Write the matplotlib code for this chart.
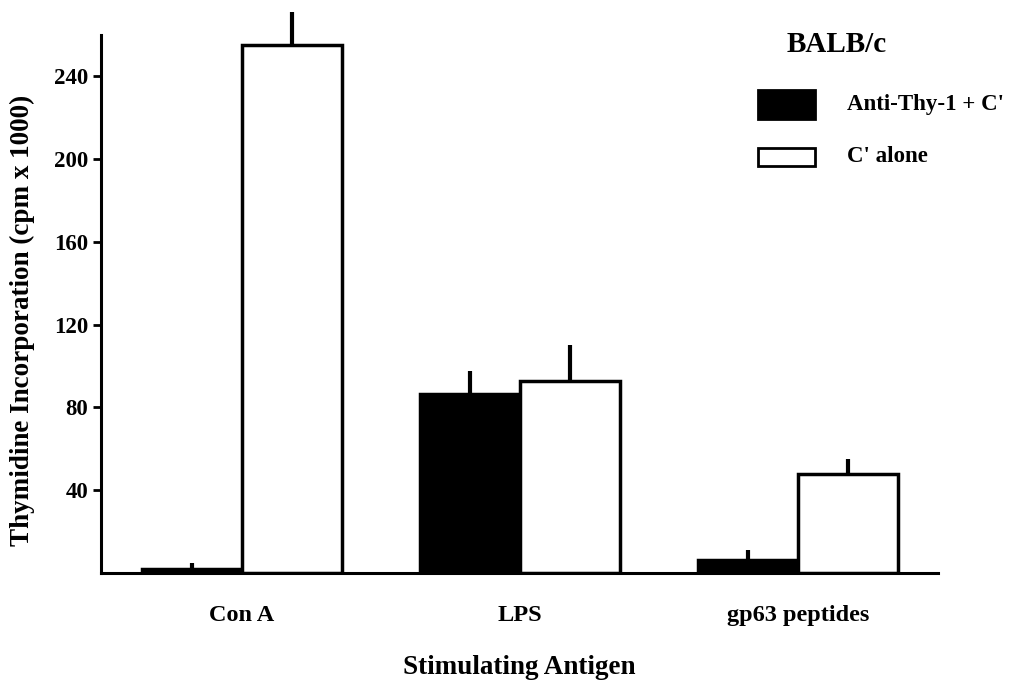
import numpy as np
import matplotlib.pyplot as plt
from matplotlib.patches import Rectangle

# thymidine incorporation, cpm x 1000
antigens = ['Con A', 'LPS', 'gp63 peptides']
anti_thy1 = [2, 86.5, 6.5]
anti_thy1_err = [3, 11, 4.5]
c_alone = [255, 93, 48]
c_alone_err = [16, 17, 7]
series_names = ["Anti-Thy-1 + C'", "C' alone"]
yticks = [40, 80, 120, 160, 200, 240]

plt.rcParams['font.family'] = ['Liberation Serif', 'DejaVu Serif']
plt.rcParams['font.weight'] = 'bold'

fig = plt.figure(figsize=(10.1, 6.85), dpi=100)
ax = fig.add_axes([0.1, 0.1635, 0.829, 0.7855])

x = np.arange(len(antigens))
w = 0.36
ax.bar(x - w / 2, anti_thy1, w, color='black', edgecolor='black', linewidth=2.5)
ax.bar(x + w / 2, c_alone, w, color='white', edgecolor='black', linewidth=2.5)

# one-sided error bars (upper only)
ax.errorbar(x - w / 2, anti_thy1, yerr=[np.zeros(3), anti_thy1_err], fmt='none',
            ecolor='black', elinewidth=3, capsize=0, clip_on=False)
ax.errorbar(x + w / 2, c_alone, yerr=[np.zeros(3), c_alone_err], fmt='none',
            ecolor='black', elinewidth=3, capsize=0, clip_on=False)

ax.set_xlim(-0.507, 2.504)
ax.set_ylim(0, 260)
ax.set_yticks(yticks)
ax.set_yticklabels([str(t) for t in yticks], fontsize=16.5, fontweight='bold')
ax.set_xticks(x)
ax.set_xticklabels(antigens, fontsize=17.5, fontweight='bold')
ax.tick_params(axis='x', length=0, pad=23)
ax.tick_params(axis='y', length=6, width=2, direction='out', pad=3)

for side in ['top', 'right']:
    ax.spines[side].set_visible(False)
ax.spines['left'].set_linewidth(2.2)
ax.spines['bottom'].set_linewidth(2.2)

ax.set_ylabel('Thymidine Incorporation (cpm x 1000)', fontsize=19.5, fontweight='bold')
ax.yaxis.set_label_coords(-0.079, 0.47)
ax.set_xlabel('Stimulating Antigen', fontsize=19.5, fontweight='bold')
ax.xaxis.set_label_coords(0.5, -0.152)

# legend drawn by hand in figure pixels
px = lambda v, h: (v / 1010, 1 - h / 685)
fig.text(*px(837, 45), 'BALB/c', fontsize=21, fontweight='bold', ha='center', va='center')
swatches = [('black', 90, 29), ('white', 148, 18)]
for (fc, top, hgt), name in zip(swatches, series_names):
    x0, y0 = px(758, top + hgt)
    fig.patches.append(Rectangle((x0, y0), 57 / 1010, hgt / 685, transform=fig.transFigure,
                                 facecolor=fc, edgecolor='black', linewidth=2))
    fig.text(*px(847, top + hgt / 2), name, fontsize=16.5, fontweight='bold',
             ha='left', va='center')

fig.savefig('out.png', dpi=100)
